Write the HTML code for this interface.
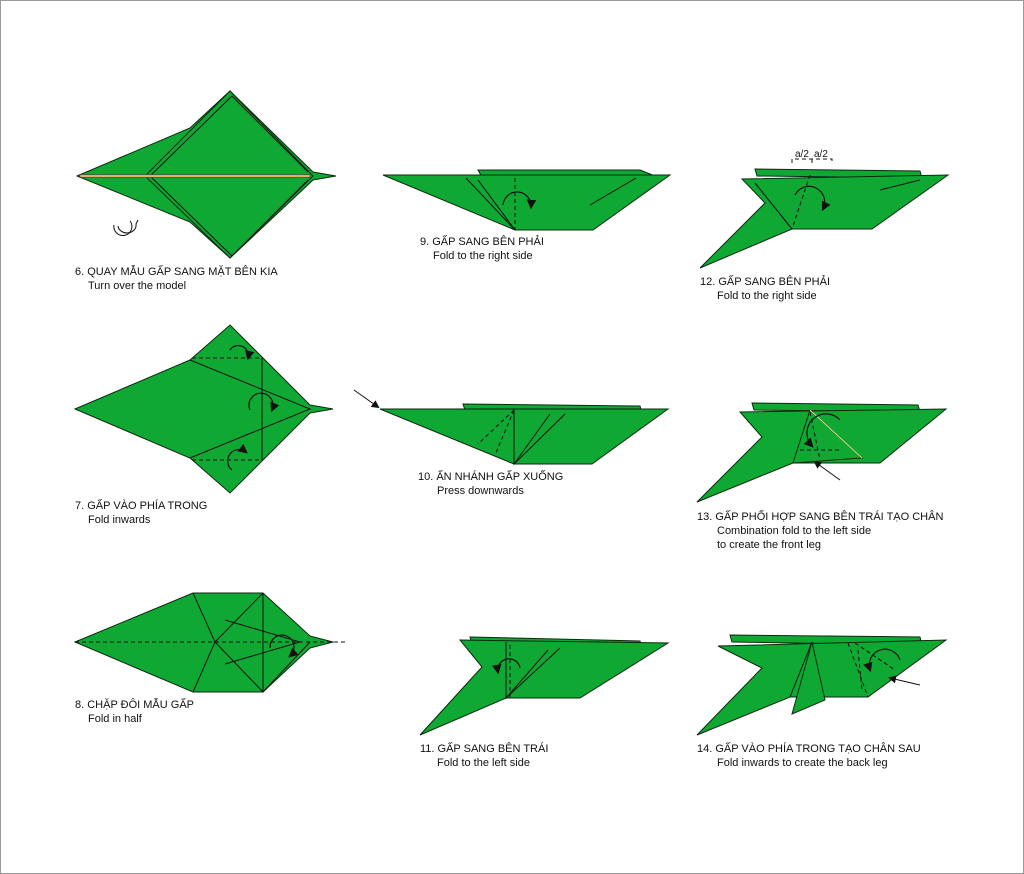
<!DOCTYPE html>
<html><head><meta charset="utf-8"><style>
html,body{margin:0;padding:0;background:#fff;}
svg{display:block;}
text{font-family:"Liberation Sans",Arial,sans-serif;font-size:11px;fill:#111;}
.g{fill:#0fa833;stroke:#0b2a10;stroke-width:1;stroke-linejoin:miter;}
.d{fill:none;stroke:#111;stroke-width:1;stroke-dasharray:4 3;}
.l{fill:none;stroke:#111;stroke-width:1;}
.a{fill:none;stroke:#111;stroke-width:1.2;}
</style></head><body>
<svg width="1024" height="874" viewBox="0 0 1024 874">
<rect x="0.5" y="0.5" width="1023" height="873" fill="#fff" stroke="#999"/>
<defs><marker id="ah" markerWidth="8" markerHeight="8" refX="6" refY="4" orient="auto"><path d="M0,0 L8,4 L0,8 z" fill="#111"/></marker></defs>

<!-- 6 -->
<polygon class="g" points="77,176 190,128 230,91 313,172 336,176 313,180 230,258 190,222"/>
<polygon class="g" points="145,176 230,91 313,176 230,258"/>
<polyline class="l" points="150,176 232,96 308,172"/>
<polyline class="l" points="150,176 232,256 308,180"/>
<rect x="80" y="174.5" width="230" height="3" fill="#d9b56a" stroke="#333" stroke-width="0.6"/>
<path class="l" d="M114,225 a9,9 0 1 0 16,-4" />
<path class="l" d="M118,226 a8,7 0 1 0 18,-2 l2,-4" />
<text x="75" y="275">6. QUAY MẪU GẤP SANG MẶT BÊN KIA</text>
<text x="88" y="289">Turn over the model</text>

<!-- 7 -->
<polygon class="g" points="75,409 190,360 230,325 310,405 333,409 310,413 230,493 190,458"/>
<polyline class="l" points="190,360 310,409 190,458"/>
<polyline class="l" points="262,358 262,460"/>
<polyline class="d" points="192,358 262,358 262,460 192,460"/>
<path class="a" d="M230,350 a10,10 0 0 1 18,8" marker-end="url(#ah)"/>
<path class="a" d="M250,410 a12,12 0 1 1 22,0" marker-end="url(#ah)"/>
<path class="a" d="M232,470 a10,10 0 0 1 14,-18" marker-end="url(#ah)"/>
<text x="75" y="509">7. GẤP VÀO PHÍA TRONG</text>
<text x="88" y="523">Fold inwards</text>

<!-- 8 -->
<polygon class="g" points="75,642 193,593 263,593 310,636 333,642 310,648 263,692 193,692"/>
<polyline class="l" points="193,593 215,642 193,692"/>
<polyline class="l" points="263,593 215,642 263,692 310,642"/>
<polyline class="l" points="263,593 263,692"/>
<polyline class="l" points="225,620 300,642 225,664"/>
<line class="d" x1="75" y1="642" x2="348" y2="642"/>
<path class="a" d="M270,648 a12,12 0 1 1 20,8" marker-end="url(#ah)"/>
<text x="75" y="708">8. CHẶP ĐÔI MẪU GẤP</text>
<text x="88" y="722">Fold in half</text>

<!-- 9 -->
<polygon class="g" points="478,170 640,170 655,176 483,179"/>
<polygon class="g" points="383,175 670,175 593,230 515,230"/>
<polyline class="l" points="466,178 515,230 478,180"/>
<polyline class="l" points="636,178 590,205"/>
<line class="d" x1="515" y1="178" x2="515" y2="230"/>
<path class="a" d="M503,205 a14,14 0 1 1 28,2" marker-end="url(#ah)"/>
<text x="420" y="245">9. GẤP SANG BÊN PHẢI</text>
<text x="433" y="259">Fold to the right side</text>

<!-- 10 -->
<polygon class="g" points="463,404 640,406 642,413 465,410"/>
<polygon class="g" points="380,409 668,409 592,464 514,464"/>
<polyline class="l" points="514,409 514,464 550,414"/>
<polyline class="l" points="514,464 565,414"/>
<line class="d" x1="514" y1="410" x2="478" y2="444"/>
<line class="d" x1="514" y1="410" x2="495" y2="455"/>
<line class="l" x1="354" y1="390" x2="378" y2="407" marker-end="url(#ah)"/>
<text x="418" y="480">10. ẤN NHÁNH GẤP XUỐNG</text>
<text x="437" y="494">Press downwards</text>

<!-- 11 -->
<polygon class="g" points="470,637 640,641 642,648 472,644"/>
<polygon class="g" points="460,640 668,643 580,698 506,698 420,735 482,667"/>
<polyline class="l" points="506,642 506,698 548,650"/>
<polyline class="l" points="506,698 560,648"/>
<line class="d" x1="510" y1="645" x2="510" y2="698"/>
<path class="a" d="M520,668 a11,11 0 1 0 -22,4" marker-end="url(#ah)"/>
<text x="420" y="752">11. GẤP SANG BÊN TRÁI</text>
<text x="437" y="766">Fold to the left side</text>

<!-- 12 -->
<polygon class="g" points="755,169 920,171 922,178 757,176"/>
<polygon class="g" points="742,179 948,175 872,229 792,229 700,268 765,203"/>
<polyline class="l" points="755,183 792,229"/>
<polyline class="l" points="920,180 880,190"/>
<line class="d" x1="810" y1="175" x2="792" y2="229"/>
<path class="a" d="M795,195 a14,14 0 1 1 28,14" marker-end="url(#ah)"/>
<path class="d" d="M792,163 v-4 h40 v4 M812,159 v4"/>
<text x="795" y="157" style="font-size:10px">a/2</text><text x="814" y="157" style="font-size:10px">a/2</text>
<text x="700" y="285">12. GẤP SANG BÊN PHẢI</text>
<text x="717" y="299">Fold to the right side</text>

<!-- 13 -->
<polygon class="g" points="752,403 918,405 920,412 754,410"/>
<polygon class="g" points="740,412 946,409 880,463 793,463 697,502 762,437"/>
<polygon class="g" points="810,410 862,458 793,463"/>
<line class="l" x1="810" y1="410" x2="862" y2="458" style="stroke:#e8d58a"/>
<line class="d" x1="810" y1="412" x2="820" y2="460"/>
<line class="d" x1="800" y1="450" x2="840" y2="450"/>
<path class="a" d="M840,420 a14,14 0 0 0 -28,26" marker-end="url(#ah)"/>
<line class="l" x1="840" y1="480" x2="815" y2="462" marker-end="url(#ah)"/>
<text x="697" y="520">13. GẤP PHỐI HỢP SANG BÊN TRÁI TẠO CHÂN</text>
<text x="717" y="534">Combination fold to the left side</text>
<text x="717" y="548">to create the front leg</text>

<!-- 14 -->
<polygon class="g" points="730,635 920,637 922,645 732,642"/>
<polygon class="g" points="718,646 946,640 868,697 790,697 697,735 762,668"/>
<polygon class="g" points="812,642 825,700 792,714"/>
<polyline class="l" points="812,642 790,697"/>
<line class="d" x1="848" y1="643" x2="868" y2="697"/>
<line class="d" x1="855" y1="643" x2="895" y2="670"/>
<line class="d" x1="858" y1="650" x2="862" y2="690"/>
<path class="a" d="M900,660 a14,14 0 0 0 -30,10" marker-end="url(#ah)"/>
<line class="l" x1="920" y1="685" x2="890" y2="678" marker-end="url(#ah)"/>
<text x="697" y="752">14. GẤP VÀO PHÍA TRONG TẠO CHÂN SAU</text>
<text x="717" y="766">Fold inwards to create the back leg</text>
</svg>
</body></html>
